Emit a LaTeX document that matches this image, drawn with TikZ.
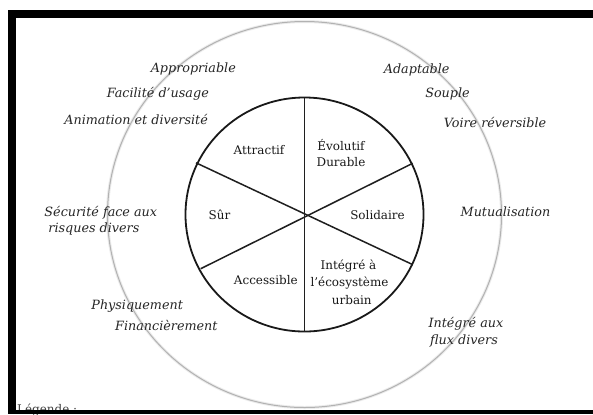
\documentclass[tikz,border=0pt]{standalone}
\usepackage{fontspec}
\setmainfont{DejaVu Serif}
\begin{document}
\begin{tikzpicture}[x=1bp,y=-1bp,
  inlab/.style={inner sep=0pt, font=\fontsize{12}{14}\selectfont, text=black!90},
  outlab/.style={inner sep=0pt, font=\fontsize{12.8}{14}\selectfont\itshape, text=black!85},
  spoke/.style={line width=1.5bp, draw=black!88},
]
\useasboundingbox (0,0) rectangle (593,414);
\fill[white] (0,0) rectangle (593,414);
% outer circle
\coordinate (c) at (304.5,214.5);
\draw[black!8, line width=3bp] (c) ellipse [x radius=197, y radius=193];
\draw[black!30, line width=1bp] (c) ellipse [x radius=197, y radius=193];
% inner circle
\coordinate (ci) at (304.5,214.5);
\draw[black!90, line width=1.8bp] (ci) ellipse [x radius=119, y radius=117];
% spokes
\coordinate (t) at (304.5,97.5);
\coordinate (b) at (304.5,331.5);
\coordinate (ul) at (196,162.8);
\coordinate (lr) at (411.8,264.2);
\coordinate (ll) at (200.7,268.7);
\coordinate (ur) at (412.7,163.3);
\draw[spoke] (t) -- (b);
\draw[spoke] (ul) -- (lr);
\draw[spoke] (ll) -- (ur);
% inner labels
\node[inlab, anchor=base] (attr) at (259,154) {Attractif};
\node[inlab, anchor=base] (evo) at (341,150.7) {Évolutif};
\node[inlab, anchor=base] (dur) at (341,166.7) {Durable};
\node[inlab, anchor=base] (sur) at (219.5,219.3) {Sûr};
\node[inlab, anchor=base] (sol) at (377.5,219.3) {Solidaire};
\node[inlab, anchor=base] (acc) at (265.8,284) {Accessible};
\node[inlab, anchor=base] (int1) at (348.5,269.3) {Intégré à};
\node[inlab, anchor=base] (int2) at (349.5,286.7) {l'écosystème};
\node[inlab, anchor=base] (int3) at (351.8,304) {urbain};
% outer labels
\node[outlab, anchor=base] (appr) at (193.3,72.7) {Appropriable};
\node[outlab, anchor=base east] (fac) at (209,97.3) {Facilité d'usage};
\node[outlab, anchor=base east] (anim) at (208,124) {Animation et diversité};
\node[outlab, anchor=base] (adap) at (416.7,73.3) {Adaptable};
\node[outlab, anchor=base] (soup) at (447.5,97.3) {Souple};
\node[outlab, anchor=base] (voir) at (495,127.3) {Voire réversible};
\node[outlab, anchor=base west] (sec1) at (44.3,216) {Sécurité face aux};
\node[outlab, anchor=base west] (sec2) at (48.3,232.3) {risques divers};
\node[outlab, anchor=base] (mutu) at (505.5,216.7) {Mutualisation};
\node[outlab, anchor=base] (phys) at (137.2,309.3) {Physiquement};
\node[outlab, anchor=base west] (fin) at (115,330.7) {Financièrement};
\node[outlab, anchor=base west] (flux1) at (428.3,327.3) {Intégré aux};
\node[outlab, anchor=base west] (flux2) at (430,344) {flux divers};
% cut-off legend
\node[inner sep=0pt, anchor=base west, font=\fontsize{12}{14}\selectfont, text=black!75] (leg) at (17,413) {Légende :};
% black frame
\fill[black] (8,9.5) rectangle (593,17.5);
\fill[black] (8,9.5) rectangle (16,414);
\fill[black] (8,409.5) rectangle (593,414);
\end{tikzpicture}
\end{document}
